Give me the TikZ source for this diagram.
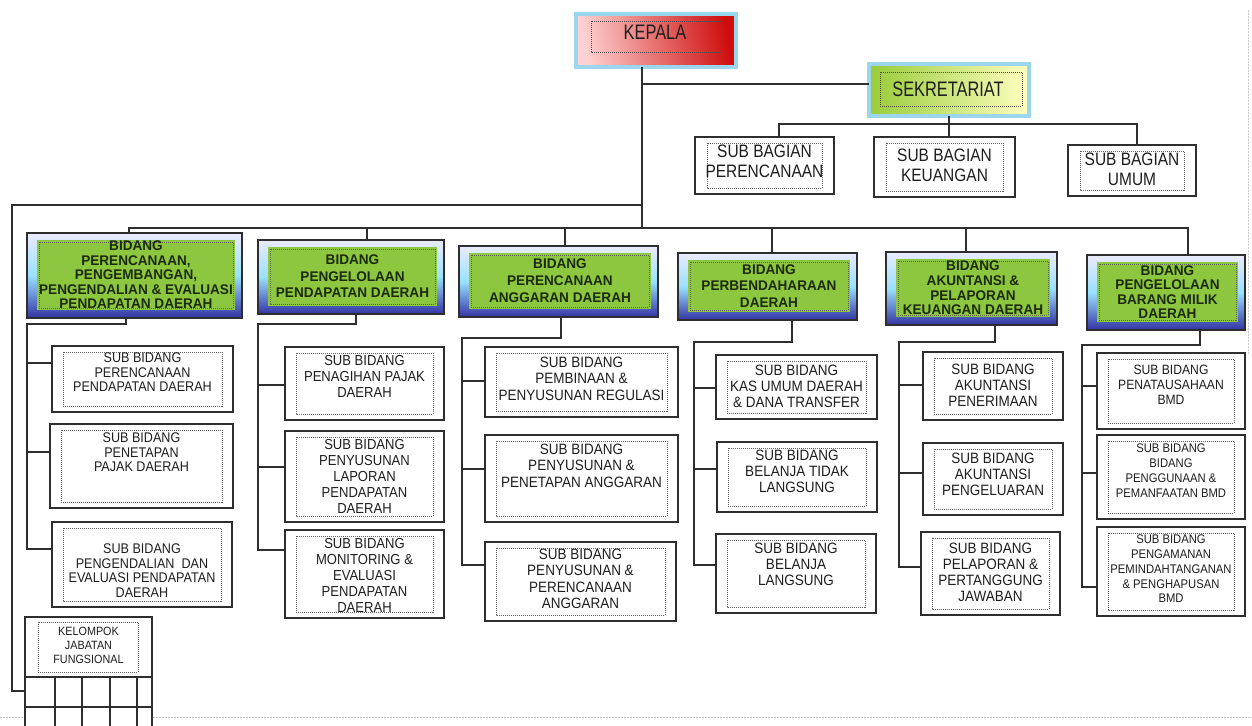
\documentclass[tikz,border=0pt]{standalone}
\usepackage{fontspec}
\setmainfont{Liberation Sans}
\newfontfamily\hdfont[FakeStretch=0.78]{Liberation Sans}
\newfontfamily\sbfont[FakeStretch=0.86]{Liberation Sans}
\newfontfamily\sdfont[FakeStretch=0.9]{Liberation Sans}
\newfontfamily\bdfont[FakeStretch=0.97]{Liberation Sans}
\usetikzlibrary{calc}
\definecolor{ln}{HTML}{2E2E2E}
\definecolor{cyanframe}{HTML}{9BD5EE}
\definecolor{bidgreen}{HTML}{8DC63F}
\definecolor{txtc}{HTML}{1E1E1E}
\definecolor{bidtxtc}{HTML}{1C2A0C}

\tikzset{
  conn/.style={draw=ln, line width=1.1pt},
  box/.style={draw=ln, line width=1.2pt, fill=white, anchor=north west, inner sep=0pt, outer sep=0pt},
  dots/.style={draw=gray!75!black, line width=0.6pt, dash pattern=on 1pt off 1pt},
  txt/.style={inner sep=0pt, outer sep=0pt, align=center, anchor=north, text=txtc},
  bidout/.style={draw=ln, line width=1.3pt, anchor=north west, inner sep=0pt, outer sep=0pt,
     top color=blue!8!white, bottom color=blue!55!black!80, middle color=blue!30!cyan!40},
  bidtxt/.style={inner sep=0pt, outer sep=0pt, align=center, text=bidtxtc},
  faint/.style={draw=gray!45, line width=0.7pt, dash pattern=on 2pt off 1pt}
}

% name, x1, y1, x2, y2, offset, fontsize, skip, text
\newcommand\subbid[9]{%
  \pgfmathsetmacro\mywd{#4-#2}\pgfmathsetmacro\myht{#5-#3}%
  \node[box, minimum width=\mywd pt, minimum height=\myht pt] (#1) at (#2,#3) {};
  \draw[dots] ([shift={(11pt,-6pt)}]#1.north west) rectangle ([shift={(-11pt,6pt)}]#1.south east);
  \node[txt, font=\sdfont\fontsize{#7}{#8}\selectfont] (#1t) at ([yshift=-#6 pt]#1.north) {#9};
}
% name, x1, y1, x2, y2, skip, text
\newcommand\bidang[7]{%
  \pgfmathsetmacro\mywd{#4-#2}\pgfmathsetmacro\myht{#5-#3}%
  \node[bidout, minimum width=\mywd pt, minimum height=\myht pt] (#1) at (#2,#3) {};
  \fill[bidgreen] ([shift={(10pt,-7pt)}]#1.north west) rectangle ([shift={(-7pt,8pt)}]#1.south east);
  \draw[dots] ([shift={(12pt,-9pt)}]#1.north west) rectangle ([shift={(-9pt,10pt)}]#1.south east);
  \node[bidtxt, font=\bdfont\bfseries\fontsize{14}{#6}\selectfont] (#1t) at ([shift={(1.5pt,0.5pt)}]#1.center) {#7};
}

\begin{document}
\begin{tikzpicture}[x=1pt, y=-1pt, line join=miter]
\useasboundingbox (0,0) rectangle (1252,725);
\fill[white] (0,0) rectangle (1252,725);
\clip (0,0) rectangle (1252,725);

% faint page edges
\draw[faint] (1248,10) -- (1248,355);
\draw[faint] (0,717) -- (1252,717);

% KEPALA
\node[anchor=north west, minimum width=160pt, minimum height=53pt, inner sep=0pt, outer sep=0pt,
      draw=cyanframe, line width=3.5pt, left color=red!18!white, right color=red!80!black!95,
      shading angle=100] (K) at (576,14) {};
\draw[dots, draw=black!70] (591,21) rectangle (721,52);
\node[inner sep=0pt, font=\hdfont\fontsize{21}{24}\selectfont, text=txtc] (Kt) at (655,32) {KEPALA};

% SEKRETARIAT
\node[anchor=north west, minimum width=160pt, minimum height=52pt, inner sep=0pt, outer sep=0pt,
      draw=cyanframe, line width=3.5pt, left color=bidgreen!90!yellow, right color=yellow!25!white] (S) at (869,64) {};
\draw[dots, draw=black!70] (880,72) rectangle (1022,106);
\node[inner sep=0pt, font=\hdfont\fontsize{21}{24}\selectfont, text=txtc] (St) at (948,89) {SEKRETARIAT};

% Sub bagian
\node[box, minimum width=139pt, minimum height=57pt] (SBA1) at (695,137) {};
\draw[dots] ([shift={(12pt,-6pt)}]SBA1.north west) rectangle ([shift={(-12pt,6pt)}]SBA1.south east);
\node[txt, font=\sbfont\fontsize{18}{20}\selectfont] (SBA1t) at ([yshift=-8pt]SBA1.north) {SUB BAGIAN\\PERENCANAAN};
\node[box, minimum width=141pt, minimum height=60pt] (SBA2) at (874,137) {};
\draw[dots] ([shift={(12pt,-6pt)}]SBA2.north west) rectangle ([shift={(-12pt,6pt)}]SBA2.south east);
\node[txt, font=\sbfont\fontsize{18}{20}\selectfont] (SBA2t) at ([yshift=-12pt]SBA2.north) {SUB BAGIAN\\KEUANGAN};
\node[box, minimum width=128pt, minimum height=51pt] (SBA3) at (1068,145) {};
\draw[dots] ([shift={(12pt,-6pt)}]SBA3.north west) rectangle ([shift={(-12pt,6pt)}]SBA3.south east);
\node[txt, font=\sbfont\fontsize{18}{20}\selectfont] (SBA3t) at ([yshift=-8pt]SBA3.north) {SUB BAGIAN\\UMUM};

% Bidang
\bidang{B1}{27}{233}{242}{318}{14.5}{BIDANG\\PERENCANAAN,\\PENGEMBANGAN,\\PENGENDALIAN \& EVALUASI\\PENDAPATAN DAERAH}
\bidang{B2}{258}{240}{444}{314}{16.5}{BIDANG\\PENGELOLAAN\\PENDAPATAN DAERAH}
\bidang{B3}{459}{246}{658}{317}{17}{BIDANG\\PERENCANAAN\\ANGGARAN DAERAH}
\bidang{B4}{678}{253}{857}{320}{16.5}{BIDANG\\PERBENDAHARAAN\\DAERAH}
\bidang{B5}{886}{252}{1057}{325}{14.7}{BIDANG\\AKUNTANSI \&\\PELAPORAN\\KEUANGAN DAERAH}
\bidang{B6}{1087}{255}{1245}{330}{14.5}{BIDANG\\PENGELOLAAN\\BARANG MILIK\\DAERAH}

% Sub bidang
\subbid{SB1a}{52}{346}{233}{412}{7}{14}{14.5}{SUB BIDANG\\PERENCANAAN\\PENDAPATAN DAERAH}
\subbid{SB1b}{50}{424}{233}{508}{9}{14}{14.5}{SUB BIDANG\\PENETAPAN\\PAJAK DAERAH}
\subbid{SB1c}{52}{522}{232}{607}{22}{14}{14.5}{SUB BIDANG\\PENGENDALIAN~ DAN\\EVALUASI PENDAPATAN\\DAERAH}

\subbid{SB2a}{285}{347}{444}{420}{8}{14.5}{16}{SUB BIDANG\\PENAGIHAN PAJAK\\DAERAH}
\subbid{SB2b}{285}{431}{444}{522}{8}{14.5}{16}{SUB BIDANG\\PENYUSUNAN\\LAPORAN\\PENDAPATAN\\DAERAH}
\subbid{SB2c}{285}{530}{444}{618}{8}{14.5}{16}{SUB BIDANG\\MONITORING \&\\EVALUASI\\PENDAPATAN\\DAERAH}

\subbid{SB3a}{485}{347}{678}{417}{10}{15}{16.5}{SUB BIDANG\\PEMBINAAN \&\\PENYUSUNAN REGULASI}
\subbid{SB3b}{485}{435}{678}{522}{9}{15}{16.5}{SUB BIDANG\\PENYUSUNAN \&\\PENETAPAN ANGGARAN}
\subbid{SB3c}{485}{542}{676}{621}{7}{15}{16.5}{SUB BIDANG\\PENYUSUNAN \&\\PERENCANAAN\\ANGGARAN}

\subbid{SB4a}{716}{355}{877}{419}{10}{15}{16}{SUB BIDANG\\KAS UMUM DAERAH\\\& DANA TRANSFER}
\subbid{SB4b}{717}{442}{877}{512}{8}{15}{16}{SUB BIDANG\\BELANJA TIDAK\\LANGSUNG}
\subbid{SB4c}{716}{534}{876}{613}{9}{15}{16}{SUB BIDANG\\BELANJA\\LANGSUNG}

\subbid{SB5a}{923}{352}{1063}{420}{12}{15}{16}{SUB BIDANG\\AKUNTANSI\\PENERIMAAN}
\subbid{SB5b}{923}{443}{1063}{515}{10}{15}{16}{SUB BIDANG\\AKUNTANSI\\PENGELUARAN}
\subbid{SB5c}{921}{532}{1060}{615}{11}{15}{16}{SUB BIDANG\\PELAPORAN \&\\PERTANGGUNG\\JAWABAN}

\subbid{SB6a}{1097}{353}{1245}{429}{12}{13.5}{15}{SUB BIDANG\\PENATAUSAHAAN\\BMD}
\subbid{SB6b}{1097}{435}{1245}{519}{9}{12.5}{15}{SUB BIDANG\\BIDANG\\PENGGUNAAN \&\\PEMANFAATAN BMD}
\subbid{SB6c}{1097}{527}{1245}{616}{8}{12.5}{14.8}{SUB BIDANG\\PENGAMANAN\\PEMINDAHTANGANAN\\\& PENGHAPUSAN\\BMD}

% Kelompok jabatan fungsional
\node[box, minimum width=127pt, minimum height=130pt] (KJ) at (25,617) {};
\draw[dots] (38,622) rectangle (138,672);
\node[txt, font=\sdfont\fontsize{12}{14}\selectfont] (KJt) at ([yshift=-10pt]KJ.north) {KELOMPOK\\JABATAN\\FUNGSIONAL};
\draw[conn] (KJ.west |- 0,677) -- (KJ.east |- 0,677);
\draw[conn] (KJ.west |- 0,707) -- (KJ.east |- 0,707);
\foreach \gx in {55,82,110,137} \draw[conn] (\gx,677) -- (\gx,740);

% connectors
\coordinate (kdrop) at ($(K.south west)+(66,0)$);
\coordinate (bus) at (kdrop |- 0,228);
\coordinate (rail) at (kdrop |- 0,205);
\draw[conn] (kdrop) |- ([yshift=6pt]S.west);
\draw[conn] (kdrop) -- (bus);
\draw[conn] (bus) -| (B1.north -| 129,0);
\draw[conn] (bus) -| (B2.north -| 367,0);
\draw[conn] (bus) -| (B3.north -| 565,0);
\draw[conn] (bus) -| (B4.north -| 772,0);
\draw[conn] (bus) -| (B5.north -| 966,0);
\draw[conn] (bus) -| (B6.north -| 1188,0);
\draw[conn] (rail) -- (rail -| 12,0) |- (KJ.west |- 0,691);

\draw[conn] (S.south) -- (S.south |- SBA2.north);
\draw[conn] (SBA1.north -| 779,0) |- (1137,124) -- (SBA3.north -| 1137,0);

% column 1
\draw[conn] (B1.south -| 126,0) |- (27,324) |- (SB1c.west |- 0,549);
\draw[conn] (27,363) -- (SB1a.west |- 0,363);
\draw[conn] (27,452) -- (SB1b.west |- 0,452);
% column 2
\draw[conn] (B2.south -| 356,0) |- (258,324) |- (SB2c.west |- 0,550);
\draw[conn] (258,385) -- (SB2a.west |- 0,385);
\draw[conn] (258,467) -- (SB2b.west |- 0,467);
% column 3
\draw[conn] (B3.south -| 561,0) |- (462,338) |- (SB3c.west |- 0,565);
\draw[conn] (462,381) -- (SB3a.west |- 0,381);
\draw[conn] (462,469) -- (SB3b.west |- 0,469);
% column 4
\draw[conn] (B4.south -| 792,0) |- (694,342) |- (SB4c.west |- 0,565);
\draw[conn] (694,388) -- (SB4a.west |- 0,388);
\draw[conn] (694,469) -- (SB4b.west |- 0,469);
% column 5
\draw[conn] (B5.south -| 995,0) |- (899,342) |- (SB5c.west |- 0,567);
\draw[conn] (899,385) -- (SB5a.west |- 0,385);
\draw[conn] (899,473) -- (SB5b.west |- 0,473);
% column 6
\draw[conn] (B6.south -| 1200,0) |- (1082,345) |- (SB6c.west |- 0,587);
\draw[conn] (1082,386) -- (SB6a.west |- 0,386);
\draw[conn] (1082,473) -- (SB6b.west |- 0,473);
\end{tikzpicture}
\end{document}
